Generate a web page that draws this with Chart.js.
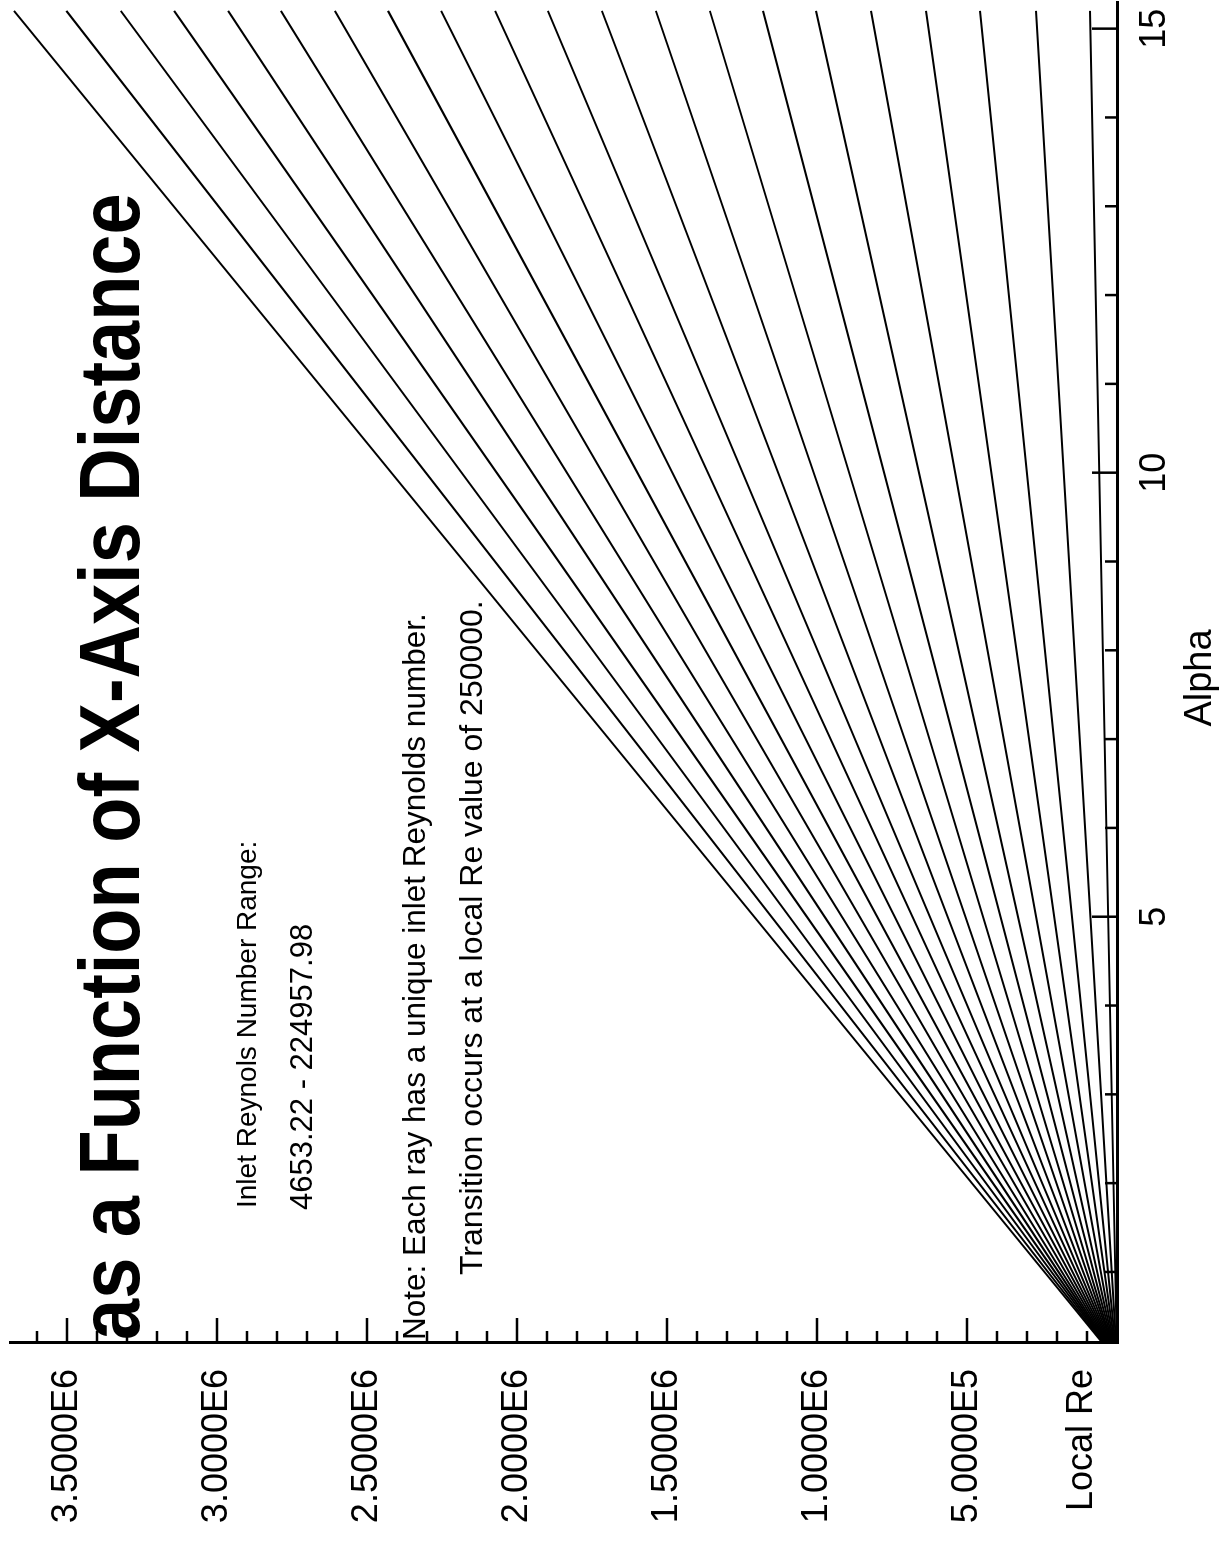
<!DOCTYPE html>
<html>
<head>
<meta charset="utf-8">
<script src="https://cdn.jsdelivr.net/npm/chart.js@4.4.1/dist/chart.umd.min.js"></script>
<style>
  html, body { margin: 0; padding: 0; background: #fff; overflow: hidden; }
  body { width: 1227px; height: 1545px; position: relative; }
  #wrap {
    position: absolute; left: 0; top: 0;
    width: 1545px; height: 1227px;
    transform-origin: 0 0;
    transform: translate(0, 1545px) rotate(-90deg);
  }
</style>
</head>
<body>
<div id="wrap"><canvas id="myChart" width="1545" height="1227"></canvas></div>
<script>
// Alpha range of every ray
const ALPHA_START = 0.2;
const ALPHA_END = 15.2;

// local Re at the start and at the end of each ray
const RAY_RE_START = [48400, 46100, 43700, 41400, 39000, 36700, 34300, 32000, 29600, 27300, 25000, 22600, 20200, 17900, 15500, 13200, 10800, 8400, 6000, 3600, 1200];
const RAY_RE_END = [3677000, 3502000, 3321000, 3143000, 2963000, 2787000, 2607000, 2430000, 2253000, 2073000, 1897000, 1717000, 1537000, 1357000, 1180000, 1003000, 820000, 637000, 457000, 270000, 90000];

const ALPHA_TICKS = [5, 10, 15];
const ALPHA_TICK_LABELS = ['5', '10', '15'];
const RE_TICKS = [500000, 1000000, 1500000, 2000000, 2500000, 3000000, 3500000];
const RE_TICK_LABELS = ['5.0000E5', '1.0000E6', '1.5000E6', '2.0000E6', '2.5000E6', '3.0000E6', '3.5000E6'];

const TITLE = 'as a Function of X-Axis Distance';
const NOTES = [
    'Inlet Reynols Number Range:',
    '4653.22 - 224957.98',
    'Note: Each ray has a unique inlet Reynolds number.',
    'Transition occurs at a local Re value of 250000.'
];

const FONT = '"Liberation Sans", Arial, Helvetica, sans-serif';

const datasets = RAY_RE_END.map((reEnd, i) => ({
    label: 'ray ' + (i + 1),
    data: [{x: ALPHA_START, y: RAY_RE_START[i]}, {x: ALPHA_END, y: reEnd}],
    showLine: true,
    borderColor: '#000',
    borderWidth: 2,
    pointRadius: 0,
    fill: false
}));

// tick marks pointing inwards + free text
const decorations = {
    id: 'decorations',
    afterDraw(chart) {
        const ctx = chart.ctx;
        const area = chart.chartArea;
        const xs = chart.scales.x;
        const ys = chart.scales.y;
        ctx.save();
        ctx.strokeStyle = '#000';
        ctx.lineWidth = 2.5;
        ctx.beginPath();
        for (let v = 100000; v <= ys.max; v += 100000) {
            const p = ys.getPixelForValue(v);
            const len = RE_TICKS.includes(Math.round(v)) ? 25 : 12;
            ctx.moveTo(area.left, p);
            ctx.lineTo(area.left + len, p);
        }
        for (let v = 1; v <= xs.max; v += 1) {
            const p = xs.getPixelForValue(v);
            const len = ALPHA_TICKS.includes(v) ? 25 : 12;
            ctx.moveTo(p, area.bottom);
            ctx.lineTo(p, area.bottom - len);
        }
        ctx.stroke();

        ctx.fillStyle = '#000';
        // y axis name sits where the zero label would be
        ctx.font = '36px ' + FONT;
        ctx.textAlign = 'right';
        ctx.textBaseline = 'middle';
        ctx.fillText('Local Re', area.left - 26, area.bottom - 35);

        ctx.font = '38px ' + FONT;
        ctx.textAlign = 'center';
        ctx.textBaseline = 'alphabetic';
        ctx.fillText('Alpha', 867, 1211);

        // title is a bit narrower than the plain bold face
        ctx.save();
        ctx.font = 'bold 86px ' + FONT;
        ctx.textAlign = 'left';
        ctx.translate(205, 139);
        ctx.scale(0.86, 1);
        ctx.fillText(TITLE, 0, 0);
        ctx.restore();

        ctx.textAlign = 'left';
        ctx.font = '28px ' + FONT;
        ctx.fillText(NOTES[0], 337, 256);
        ctx.font = '31px ' + FONT;
        ctx.fillText(NOTES[1], 335, 312);
        ctx.font = '31.5px ' + FONT;
        ctx.fillText(NOTES[2], 205, 425);
        ctx.font = '32px ' + FONT;
        ctx.fillText(NOTES[3], 270, 482);
        ctx.restore();
    }
};

const config = {
    type: 'scatter',
    data: {datasets: datasets},
    options: {
        responsive: false,
        devicePixelRatio: 1,
        animation: false,
        layout: {padding: {top: 10, right: 2, left: 0, bottom: 0}},
        plugins: {legend: {display: false}, tooltip: {enabled: false}},
        scales: {
            x: {
                type: 'linear',
                min: ALPHA_START,
                max: 15.3,
                afterBuildTicks: (s) => { s.ticks = ALPHA_TICKS.map(v => ({value: v})); },
                afterFit: (s) => { s.height = 110; s.paddingLeft = 0; s.paddingRight = 0; },
                grid: {display: false, drawTicks: false},
                border: {display: true, width: 3, color: '#000'},
                ticks: {
                    color: '#000',
                    font: {family: FONT, size: 36},
                    padding: 16,
                    maxRotation: 0,
                    autoSkip: false,
                    callback: (v, i) => ALPHA_TICK_LABELS[i]
                }
            },
            y: {
                type: 'linear',
                min: 0,
                max: 3690000,
                afterBuildTicks: (s) => { s.ticks = RE_TICKS.map(v => ({value: v})); },
                afterFit: (s) => { s.width = 202; s.paddingTop = 0; s.paddingBottom = 0; },
                grid: {display: false, drawTicks: false},
                border: {display: true, width: 3, color: '#000'},
                ticks: {
                    color: '#000',
                    font: {family: FONT, size: 36},
                    padding: 26,
                    autoSkip: false,
                    callback: (v, i) => RE_TICK_LABELS[i]
                }
            }
        }
    },
    plugins: [decorations]
};

const myChart = new Chart(document.getElementById('myChart'), config);
</script>
</body>
</html>
